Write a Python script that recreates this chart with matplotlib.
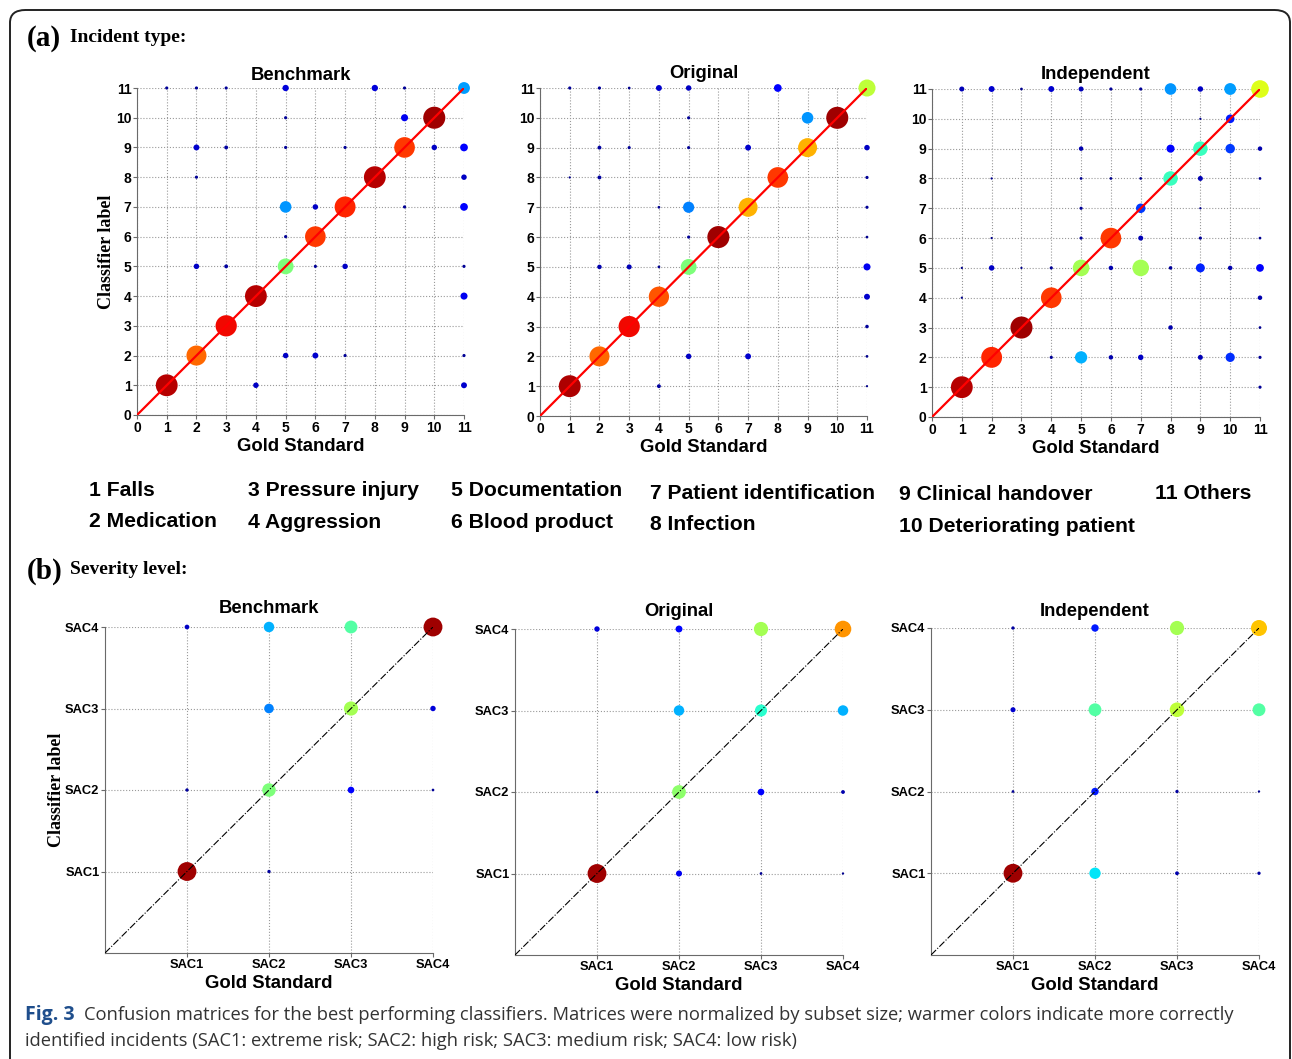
import numpy as np
import matplotlib.pyplot as plt
from matplotlib.patches import FancyBboxPatch

# confusion matrix entries: (gold standard, classifier label, normalized value)
bench_type = [
    (1, 11, 0.02), (2, 11, 0.02), (3, 11, 0.02), (5, 11, 0.08), (8, 11, 0.08), (9, 11, 0.02), (11, 11, 0.28),
    (5, 10, 0.02), (9, 10, 0.10), (10, 10, 0.97),
    (2, 9, 0.07), (3, 9, 0.03), (5, 9, 0.02), (7, 9, 0.02), (9, 9, 0.85), (10, 9, 0.06), (11, 9, 0.12),
    (2, 8, 0.02), (8, 8, 0.95), (11, 8, 0.06),
    (5, 7, 0.27), (6, 7, 0.06), (7, 7, 0.87), (9, 7, 0.02), (11, 7, 0.12),
    (5, 6, 0.02), (6, 6, 0.85),
    (2, 5, 0.06), (3, 5, 0.03), (5, 5, 0.50), (6, 5, 0.02), (7, 5, 0.06), (11, 5, 0.02),
    (4, 4, 0.95), (11, 4, 0.10),
    (3, 3, 0.90),
    (2, 2, 0.80), (5, 2, 0.06), (6, 2, 0.07), (7, 2, 0.02), (11, 2, 0.02),
    (1, 1, 0.95), (4, 1, 0.06), (11, 1, 0.07),
]
orig_type = [
    (1, 11, 0.02), (2, 11, 0.02), (3, 11, 0.015), (4, 11, 0.07), (5, 11, 0.06), (8, 11, 0.12), (11, 11, 0.58),
    (5, 10, 0.02), (9, 10, 0.27), (10, 10, 0.97),
    (2, 9, 0.03), (3, 9, 0.02), (5, 9, 0.02), (7, 9, 0.07), (9, 9, 0.72), (11, 9, 0.06),
    (1, 8, 0.01), (2, 8, 0.03), (8, 8, 0.85), (11, 8, 0.02),
    (4, 7, 0.015), (5, 7, 0.25), (7, 7, 0.72), (11, 7, 0.02),
    (5, 6, 0.02), (6, 6, 0.97), (11, 6, 0.015),
    (2, 5, 0.04), (3, 5, 0.05), (4, 5, 0.015), (5, 5, 0.50), (11, 5, 0.10),
    (4, 4, 0.82), (11, 4, 0.07),
    (3, 3, 0.90), (11, 3, 0.025),
    (2, 2, 0.80), (5, 2, 0.06), (7, 2, 0.07), (11, 2, 0.015),
    (1, 1, 0.96), (4, 1, 0.03), (11, 1, 0.01),
]
indep_type = [
    (1, 11, 0.05), (2, 11, 0.07), (3, 11, 0.015), (4, 11, 0.07), (5, 11, 0.05), (6, 11, 0.02), (7, 11, 0.02),
    (8, 11, 0.27), (9, 11, 0.06), (10, 11, 0.28), (11, 11, 0.62),
    (9, 10, 0.01), (10, 10, 0.15),
    (5, 9, 0.04), (8, 9, 0.13), (9, 9, 0.42), (10, 9, 0.18), (11, 9, 0.04),
    (2, 8, 0.01), (5, 8, 0.015), (6, 8, 0.015), (7, 8, 0.015), (8, 8, 0.42), (9, 8, 0.05), (11, 8, 0.015),
    (5, 7, 0.02), (7, 7, 0.18), (9, 7, 0.01),
    (2, 6, 0.01), (5, 6, 0.02), (6, 6, 0.85), (7, 6, 0.05), (9, 6, 0.02), (11, 6, 0.015),
    (1, 5, 0.01), (2, 5, 0.06), (3, 5, 0.01), (4, 5, 0.02), (5, 5, 0.55), (6, 5, 0.04), (7, 5, 0.55),
    (8, 5, 0.025), (9, 5, 0.16), (10, 5, 0.04), (11, 5, 0.12),
    (1, 4, 0.01), (4, 4, 0.85), (11, 4, 0.04),
    (3, 3, 0.97), (8, 3, 0.04), (11, 3, 0.015),
    (2, 2, 0.87), (4, 2, 0.02), (5, 2, 0.30), (6, 2, 0.04), (7, 2, 0.06), (9, 2, 0.05), (10, 2, 0.17), (11, 2, 0.02),
    (1, 1, 0.95), (11, 1, 0.02),
]

bench_sev = [
    (1, 4, 0.06), (2, 4, 0.30), (3, 4, 0.45), (4, 4, 0.97),
    (2, 3, 0.25), (3, 3, 0.55), (4, 3, 0.08),
    (1, 2, 0.03), (2, 2, 0.50), (3, 2, 0.12), (4, 2, 0.02),
    (1, 1, 0.97), (2, 1, 0.03),
]
orig_sev = [
    (1, 4, 0.08), (2, 4, 0.13), (3, 4, 0.55), (4, 4, 0.75),
    (2, 3, 0.30), (3, 3, 0.40), (4, 3, 0.30),
    (1, 2, 0.02), (2, 2, 0.52), (3, 2, 0.12), (4, 2, 0.04),
    (1, 1, 0.97), (2, 1, 0.10), (3, 1, 0.02), (4, 1, 0.015),
]
indep_sev = [
    (1, 4, 0.03), (2, 4, 0.15), (3, 4, 0.55), (4, 4, 0.70),
    (1, 3, 0.07), (2, 3, 0.45), (3, 3, 0.58), (4, 3, 0.45),
    (1, 2, 0.02), (2, 2, 0.15), (3, 2, 0.03), (4, 2, 0.015),
    (1, 1, 0.97), (2, 1, 0.35), (3, 1, 0.04), (4, 1, 0.03),
]

panel_titles = ['Benchmark', 'Original', 'Independent']
sac_labels = ['SAC1', 'SAC2', 'SAC3', 'SAC4']
incident_names = [['1 Falls', '2 Medication'], ['3 Pressure injury', '4 Aggression'],
                  ['5 Documentation', '6 Blood product'], ['7 Patient identification', '8 Infection'],
                  ['9 Clinical handover', '10 Deteriorating patient'], ['11 Others', '']]

W, H = 1292, 1059
fig = plt.figure(figsize=(W / 100, H / 100), dpi=100)
sans = ['Liberation Sans', 'DejaVu Sans']
serif = ['Liberation Serif', 'DejaVu Serif']


def px_axes(left, top, right, bottom):
    return fig.add_axes([left / W, 1 - bottom / H, (right - left) / W, (bottom - top) / H])


def draw(ax, cells, n, smax, line_kw):
    x = [c[0] for c in cells]
    y = [c[1] for c in cells]
    v = np.array([c[2] for c in cells])
    ax.scatter(x, y, s=v * smax, c=v, cmap='jet', vmin=0, vmax=1, zorder=3, linewidths=0, clip_on=False)
    ax.plot([0, n], [0, n], zorder=4, **line_kw)
    ax.set_xlim(0, n)
    ax.set_ylim(0, n)
    ax.grid(True, linestyle=':', color='#9a9a9a', linewidth=0.8)
    ax.set_axisbelow(True)
    for s in ['top', 'right']:
        ax.spines[s].set_visible(False)
    for s in ['left', 'bottom']:
        ax.spines[s].set_color('#6a6a6a')
    ax.tick_params(length=3, width=0.8, color='#6a6a6a', pad=1)


# (a) incident type
top_boxes = [(137, 88, 464, 415), (540, 88, 867, 416), (932, 89, 1260, 417)]
top_pads = [6, 7.5, 7]
for (l, t, r, b), name, cells, tp in zip(top_boxes, panel_titles, [bench_type, orig_type, indep_type], top_pads):
    ax = px_axes(l, t, r, b)
    draw(ax, cells, 11, 260, dict(color='red', lw=1.6))
    ax.set_xticks(range(12))
    ax.set_yticks(range(12))
    for lab in ax.get_xticklabels() + ax.get_yticklabels():
        lab.set_fontfamily(sans)
        lab.set_fontweight('bold')
        lab.set_fontsize(10)
    ax.set_title(name, fontsize=13.3, fontweight='bold', family=sans, pad=tp)
    ax.set_xlabel('Gold Standard', fontsize=13.3, fontweight='bold', family=sans, labelpad=2.5)
    if name == 'Benchmark':
        ax.set_ylabel('Classifier label', fontsize=13, fontweight='bold', family=serif)
        ax.yaxis.set_label_coords((115 - l) / (r - l), 0.5)

# (b) severity level
bot_boxes = [(105, 627, 433, 953), (515, 629, 843, 955), (931, 628, 1259, 955)]
bot_pads = [10, 9.5, 9]
for (l, t, r, b), name, cells, bp in zip(bot_boxes, panel_titles, [bench_sev, orig_sev, indep_sev], bot_pads):
    ax = px_axes(l, t, r, b)
    draw(ax, cells, 4, 190, dict(color='black', lw=0.8, linestyle='-.'))
    ax.set_xticks([1, 2, 3, 4])
    ax.set_yticks([1, 2, 3, 4])
    ax.set_xticklabels(sac_labels, fontsize=9.3, fontweight='bold', family=sans)
    ax.set_yticklabels(sac_labels, fontsize=9.3, fontweight='bold', family=sans)
    ax.set_title(name, fontsize=13.3, fontweight='bold', family=sans, pad=bp)
    ax.set_xlabel('Gold Standard', fontsize=13.3, fontweight='bold', family=sans, labelpad=3)
    if name == 'Benchmark':
        ax.set_ylabel('Classifier label', fontsize=13, fontweight='bold', family=serif)
        ax.yaxis.set_label_coords((65 - l) / (r - l), 0.5)

# incident type key
col_x = [89, 248, 451, 650, 899, 1155]
col_dy = [0, 1, 1, 4, 5, 4]
for x, dy, names in zip(col_x, col_dy, incident_names):
    for k, txt in enumerate(names):
        fig.text(x / W, 1 - (490 + dy + 31 * k) / H, txt, fontsize=15.2, fontweight='bold',
                 family=sans, va='center', ha='left')

# panel headings
fig.text(27 / W, 1 - 39 / H, '(a)', fontsize=21, fontweight='bold', family=serif, va='center')
fig.text(70 / W, 1 - 38 / H, 'Incident type:', fontsize=14, fontweight='bold', family=serif, va='center')
fig.text(27 / W, 1 - 571 / H, '(b)', fontsize=21, fontweight='bold', family=serif, va='center')
fig.text(70 / W, 1 - 570 / H, 'Severity level:', fontsize=14, fontweight='bold', family=serif, va='center')

# caption
cap_font = ['Open Sans', 'DejaVu Sans']
fig.text(25 / W, 1 - 1015 / H, 'Fig. 3', fontsize=14, fontweight='bold', family=cap_font,
         color='#1f4e8c', va='center')
fig.text(84 / W, 1 - 1015 / H,
         'Confusion matrices for the best performing classifiers. Matrices were normalized by subset size; '
         'warmer colors indicate more correctly', fontsize=13.2, family=cap_font, color='#333333', va='center')
fig.text(25 / W, 1 - 1041 / H,
         'identified incidents (SAC1: extreme risk; SAC2: high risk; SAC3: medium risk; SAC4: low risk)',
         fontsize=13.2, family=cap_font, color='#333333', va='center')

# rounded frame
frame = FancyBboxPatch((10 / W, -0.05), (1290 - 10) / W, (1059 - 10) / H + 0.05,
                       boxstyle='round,pad=0,rounding_size=0.012', transform=fig.transFigure,
                       fill=False, edgecolor='#222222', lw=1.4, clip_on=False)
fig.patches.append(frame)

fig.savefig('out.png', dpi=100)
